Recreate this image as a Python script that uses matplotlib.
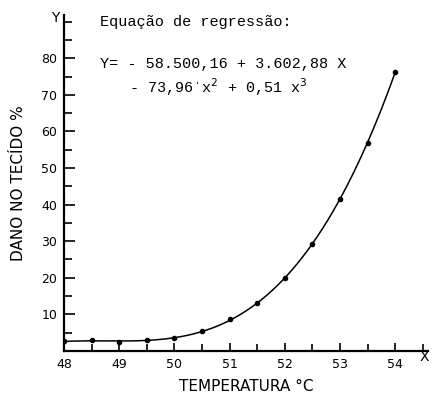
import numpy as np
import matplotlib
matplotlib.use("Agg")
import matplotlib.pyplot as plt
from matplotlib.ticker import MultipleLocator

# temperatura (C) e dano no tecido (%)
temperatura = [48, 48.5, 49, 49.5, 50, 50.5, 51, 51.5, 52, 52.5, 53, 53.5, 54]
dano = [2.6, 2.9, 2.5, 2.9, 3.5, 5.4, 8.6, 13.0, 20.0, 29.3, 41.6, 56.9, 76.3]

x_ticks = [48, 49, 50, 51, 52, 53, 54]
y_ticks = [10, 20, 30, 40, 50, 60, 70, 80]

fig = plt.figure(figsize=(4.33, 3.97), dpi=100)
ax = fig.add_axes([0.148, 0.116, 0.84, 0.846])

# curva de regressao (ajuste cubico sobre os pontos)
coef = np.polyfit(temperatura, dano, 3)
xs = np.linspace(48, 54, 200)
ys = np.polyval(coef, xs)
ax.plot(xs, ys, color="black", lw=1.1)
ax.plot(temperatura, dano, "o", color="black", ms=3)

ax.set_xlim(48, 54.59)
ax.set_ylim(0, 91.8)
for s in ["top", "right"]:
    ax.spines[s].set_visible(False)
ax.spines["left"].set_linewidth(1.6)
ax.spines["bottom"].set_linewidth(1.6)

ax.set_xticks(x_ticks)
ax.xaxis.set_minor_locator(MultipleLocator(0.5))
ax.set_yticks(y_ticks)
ax.yaxis.set_minor_locator(MultipleLocator(5))
ax.tick_params(axis="x", direction="in", length=6, width=1.2, labelsize=9, pad=5)
ax.tick_params(axis="x", which="minor", direction="in", length=5, width=1.2)
ax.tick_params(axis="y", direction="in", length=8, width=1.2, labelsize=9, pad=5)
ax.tick_params(axis="y", which="minor", direction="in", length=6, width=1.2)

ax.set_xlabel("TEMPERATURA °C", fontsize=11, labelpad=6)
ax.set_ylabel("DANO NO TECÍDO %", fontsize=11, labelpad=11)

fig.text(0.127, 0.955, "Y", fontsize=10, ha="center", va="center")
fig.text(0.990, 0.118, "X", fontsize=10, ha="right", va="top")

mono = "Liberation Mono"
fig.text(0.231, 0.945, "Equação de regressão:", family=mono, fontsize=10.9, va="center")
fig.text(0.231, 0.840, "Y= - 58.500,16 + 3.602,88 X", family=mono, fontsize=10.9, va="center")
fig.text(0.298, 0.780, "- 73,96ˈx$^2$ + 0,51 x$^3$", family=mono, fontsize=10.9, va="center")

fig.savefig("out.png", dpi=100)
